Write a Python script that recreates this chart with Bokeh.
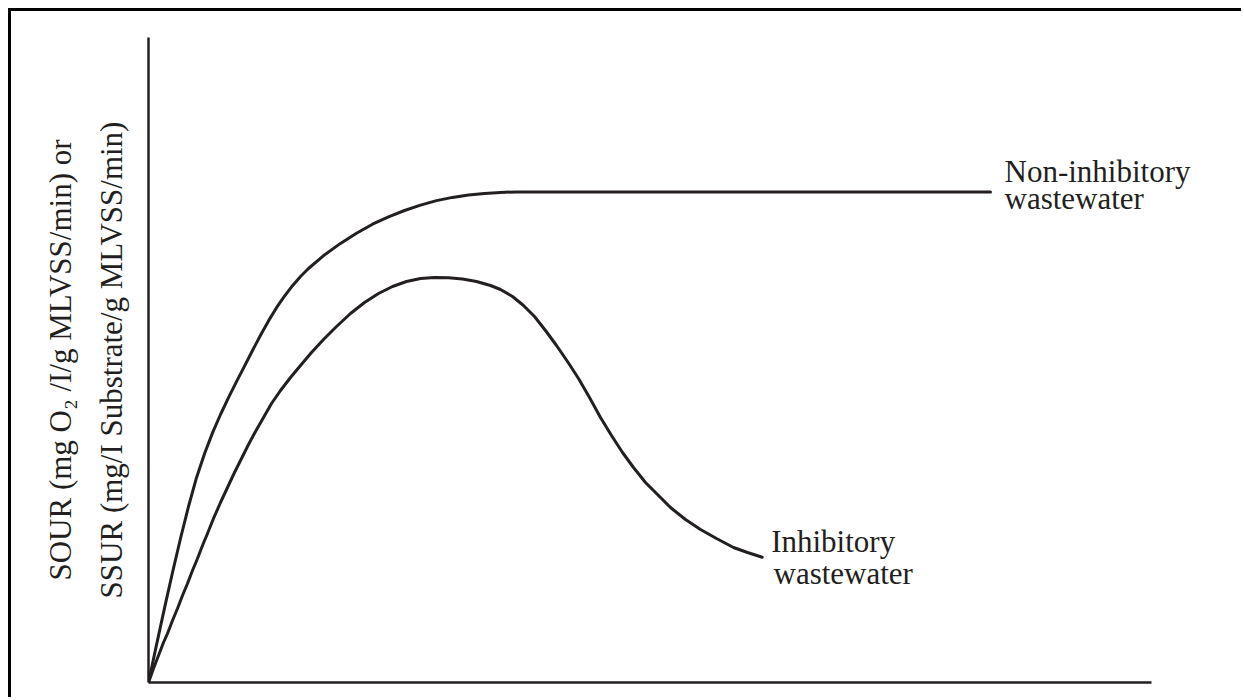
from bokeh.plotting import figure
from bokeh.models import Range1d, ColumnDataSource, LabelSet
from bokeh.core.properties import value
from bokeh.embed import file_html
from bokeh.resources import INLINE

# Non-inhibitory wastewater curve (arbitrary units)
non_x = [0, 8, 16, 24, 32, 40, 48, 56, 64, 72, 80, 88, 96, 104, 112, 120, 128,
         136, 144, 152, 160, 176, 192, 208, 224, 240, 256, 272, 288, 304, 320,
         336, 352, 368, 842]
non_y = [0, 37.6, 74.4, 110, 144, 176, 204.8, 228.8, 249.6, 268, 284.8, 300.8,
         316.4, 332, 347.2, 361.6, 374.8, 386.4, 396.8, 406, 414, 427.6, 439.1,
         449.3, 458.3, 465.6, 472, 477.4, 481.9, 485.1, 487.5, 489.1, 490.1,
         490.6, 490.6]

# Inhibitory wastewater curve
inh_x = [0, 5, 10, 15, 19, 24, 29, 34, 39, 44, 49, 54, 59, 65, 72, 79, 86, 93,
         100, 107, 115, 123, 132, 142, 152, 163, 175, 188, 202, 216, 230, 244,
         258, 272, 286, 300, 314, 328, 342, 352, 364, 375, 386, 397, 408, 419,
         430, 441, 452, 463, 474, 485, 497, 509, 522, 537, 552, 568, 585, 599,
         613.7]
inh_y = [0, 14, 27, 40, 49, 62, 74, 87, 99, 112, 124, 137, 149, 164, 180, 195,
         210, 224, 238, 251, 265, 279, 292, 305, 317, 330, 343, 356, 369, 380,
         389, 396, 401, 404, 405, 404.7, 403.5, 401, 397, 393, 386, 377, 366,
         352, 337, 321, 304, 285, 265, 247, 230, 215, 200, 188, 175, 163, 153,
         144, 135, 130, 125.3]

# Curve labels
label_text = ["Non-inhibitory", "wastewater", "Inhibitory", "wastewater"]
label_x = [856, 856, 622.7, 625]
label_y = [500.3, 473.7, 130.3, 98.7]

x_axis_end = 1003

y_label = "SOUR (mg O\u2082 /I/g MLVSS/min) or\nSSUR (mg/I Substrate/g MLVSS/min)"

INK = "#231f20"
FONT = "Liberation Serif"

W, H = 1233, 689
LEFT, RIGHT, TOP, BOTTOM = 137, 5, 26, 18

p = figure(width=W, height=H, output_backend="svg", toolbar_location=None,
           x_range=Range1d(0, W - LEFT - RIGHT), y_range=Range1d(0, 645),
           min_border_left=LEFT, min_border_right=RIGHT, min_border_top=TOP,
           min_border_bottom=BOTTOM)
p.styles = {"border-top": "3px solid black", "border-left": "3px solid black",
            "margin-left": "8px", "margin-top": "8px"}

p.xgrid.visible = False
p.ygrid.visible = False
p.outline_line_color = None
p.background_fill_color = "white"
p.border_fill_color = "white"

for ax in (p.xaxis[0], p.yaxis[0]):
    ax.axis_line_color = INK
    ax.axis_line_width = 2.5
    ax.major_tick_line_color = None
    ax.minor_tick_line_color = None
    ax.major_tick_out = 0
    ax.major_tick_in = 0
    ax.minor_tick_out = 0
    ax.major_label_text_font_size = "0px"
    ax.major_label_text_color = None

p.xaxis.bounds = (0, x_axis_end)

p.yaxis.axis_label = y_label
p.yaxis.axis_label_text_font = FONT
p.yaxis.axis_label_text_font_size = "31px"
p.yaxis.axis_label_text_font_style = "normal"
p.yaxis.axis_label_text_color = INK
p.yaxis.axis_label_text_line_height = 1.45
p.yaxis.axis_label_standoff = 20

p.line(non_x, non_y, line_color=INK, line_width=3, line_join="round", line_cap="round")
p.line(inh_x, inh_y, line_color=INK, line_width=3, line_join="round", line_cap="round")

src = ColumnDataSource(dict(x=label_x, y=label_y, t=label_text))
labels = LabelSet(x="x", y="y", text="t", source=src, text_font=value(FONT),
                  text_font_size=value("31px"), text_color=INK,
                  text_baseline="alphabetic", text_align="left")
p.add_layout(labels)

open("out.html", "w").write(file_html(p, INLINE))
